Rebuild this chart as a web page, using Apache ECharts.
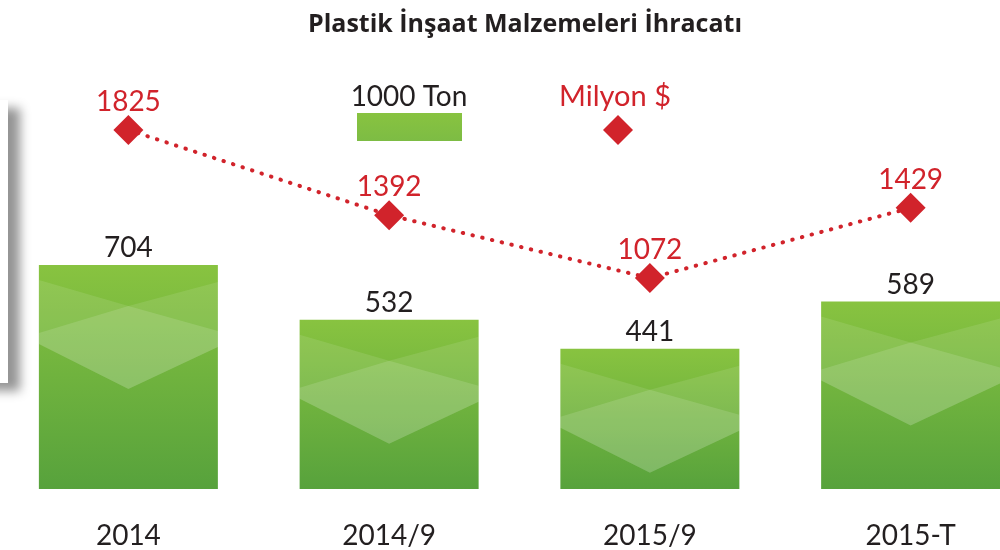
<!DOCTYPE html>
<html>
<head>
<meta charset="utf-8">
<script src="https://cdn.jsdelivr.net/npm/echarts@6/dist/echarts.min.js"></script>
<style>
  html, body { margin: 0; padding: 0; background: #fff; }
  #chart { width: 1000px; height: 550px; }
</style>
</head>
<body>
<div id="chart"></div>
<script>
const categories = ['2014', '2014/9', '2015/9', '2015-T']
const tonValues = [704, 532, 441, 589]
const usdValues = [1825, 1392, 1072, 1429]

const RED = '#d1232b'
const DARK = '#231f20'
const FONT = 'Lato, "Open Sans", sans-serif'

const chart = echarts.init(document.getElementById('chart'))

const barGradient = new echarts.graphic.LinearGradient(0, 0, 0, 1, [
  { offset: 0, color: '#88c340' },
  { offset: 1, color: '#57a23c' }
])

// light pattern on top of each bar (fixed pixel size, hung from the bar top)
const bandPath = 'path://M0,15 L89.5,41 L179,17 L179,82 L89.5,124 L0,79 Z'
const diamondPath = 'path://M0,68 L89.5,41 L179,66 L179,82 L89.5,124 L0,79 Z'

const option = {
  animation: false,
  title: {
    text: 'Plastik İnşaat Malzemeleri İhracatı',
    left: 520,
    textAlign: 'center',
    top: 7,
    textStyle: { fontFamily: '"Open Sans", sans-serif', fontWeight: 'bold', fontSize: 25, color: DARK }
  },
  grid: { left: -2, right: -41, top: 80, bottom: 61, outerBoundsMode: 'none' },
  xAxis: {
    type: 'category',
    data: categories,
    axisLine: { show: false },
    axisTick: { show: false },
    axisLabel: { margin: 33, fontSize: 28, color: DARK, fontFamily: FONT }
  },
  yAxis: [
    { type: 'value', min: 0, max: 1285, show: false },
    { type: 'value', min: 0, max: 2079, show: false }
  ],
  graphic: [
    {
      type: 'rect',
      shape: { x: -30, y: 100, width: 38, height: 283 },
      style: { fill: '#fff', shadowBlur: 10, shadowColor: 'rgba(0,0,0,0.42)', shadowOffsetX: 12, shadowOffsetY: 8 },
      z: -10
    },
    {
      type: 'text',
      x: 409, y: 97,
      style: { text: '1000 Ton', fill: DARK, font: '28px ' + FONT, align: 'center', verticalAlign: 'middle' }
    },
    {
      type: 'rect',
      shape: { x: 357, y: 113, width: 105, height: 28 },
      style: { fill: new echarts.graphic.LinearGradient(0, 0, 0, 1, [
        { offset: 0, color: '#88c340' }, { offset: 1, color: '#7dbc44' }
      ]) }
    },
    {
      type: 'text',
      x: 615, y: 97,
      style: { text: 'Milyon $', fill: RED, font: '29px ' + FONT, align: 'center', verticalAlign: 'middle' }
    },
    {
      type: 'polygon',
      shape: { points: [[618, 115], [633, 130], [618, 145], [603, 130]] },
      style: { fill: RED }
    }
  ],
  series: [
    {
      name: '1000 Ton',
      type: 'bar',
      data: tonValues,
      barWidth: 179,
      itemStyle: { color: barGradient },
      label: {
        show: true,
        position: 'top',
        distance: 3,
        fontSize: 28,
        color: DARK,
        fontFamily: FONT
      },
      z: 2
    },
    {
      type: 'pictorialBar',
      data: tonValues,
      symbol: bandPath,
      symbolSize: [179, 109],
      symbolPosition: 'end',
      symbolOffset: [0, 15],
      barWidth: 179,
      barGap: '-100%',
      itemStyle: { color: 'rgba(255,255,255,0.1)' },
      silent: true,
      z: 3
    },
    {
      type: 'pictorialBar',
      data: tonValues,
      symbol: diamondPath,
      symbolSize: [179, 83],
      symbolPosition: 'end',
      symbolOffset: [0, 41],
      barWidth: 179,
      barGap: '-100%',
      itemStyle: { color: 'rgba(255,255,255,0.13)' },
      silent: true,
      z: 3
    },
    {
      name: 'Milyon $',
      type: 'line',
      yAxisIndex: 1,
      data: usdValues,
      symbol: 'diamond',
      symbolSize: 30,
      itemStyle: { color: RED },
      lineStyle: { color: RED, width: 4, type: [0.5, 9.5], cap: 'round' },
      label: {
        show: true,
        position: 'top',
        distance: -1,
        fontSize: 28,
        color: RED,
        fontFamily: FONT
      },
      z: 5
    }
  ]
}

chart.setOption(option)
</script>
</body>
</html>
